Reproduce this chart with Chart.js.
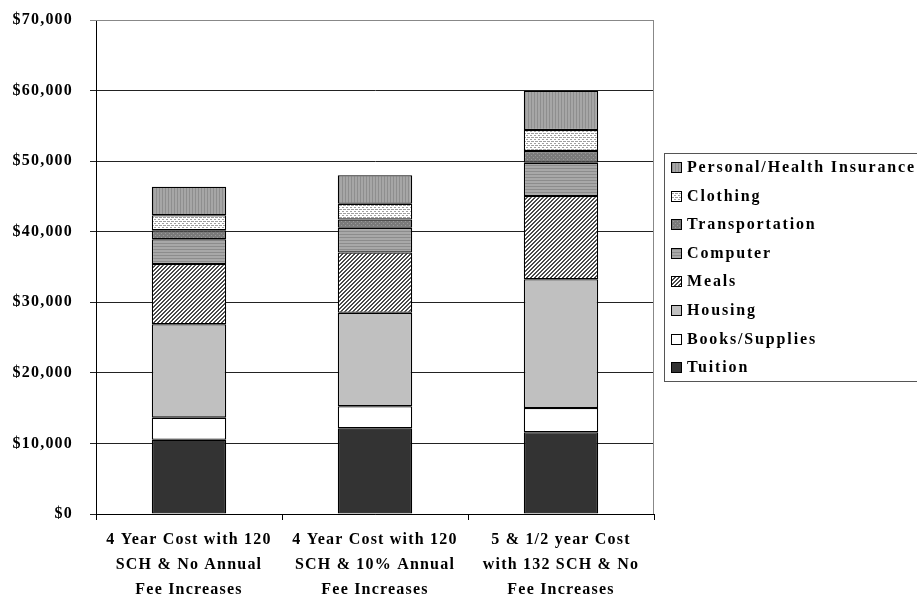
<!DOCTYPE html>
<html>
<head>
<meta charset="utf-8">
<script src="https://cdn.jsdelivr.net/npm/chart.js@4.4.1/dist/chart.umd.min.js"></script>
<style>
  html, body { margin: 0; padding: 0; background: #fff; }
  #grafico { display: block; }
</style>
</head>
<body>
<canvas id="grafico" width="917" height="601"></canvas>
<script>
// categorias (eje x, en varias lineas)
const categorias = [
   ["4 Year Cost with 120", "SCH & No Annual", "Fee Increases"],
   ["4 Year Cost with 120", "SCH & 10% Annual", "Fee Increases"],
   ["5 & 1/2 year Cost", "with 132 SCH & No", "Fee Increases"]
]

// valores de cada concepto (dolares)
const tuition = [10530, 12140, 11580]
const books = [3120, 3120, 3440]
const housing = [13230, 13240, 18240]
const meals = [8550, 8550, 11800]
const computer = [3500, 3500, 4720]
const transportation = [1270, 1180, 1660]
const clothing = [2130, 2230, 2970]
const personal = [4050, 4050, 5570]

const nombres = ["Tuition", "Books/Supplies", "Housing", "Meals", "Computer",
                 "Transportation", "Clothing", "Personal/Health Insurance"]
const ticksY = [0, 10000, 20000, 30000, 40000, 50000, 60000, 70000]

const FUENTE = "'Liberation Serif', 'Times New Roman', serif"

const crearPatron = (w, h, dibujar) => {
   const c = document.createElement('canvas')
   c.width = w
   c.height = h
   const g = c.getContext('2d')
   dibujar(g)
   return g.createPattern(c, 'repeat')
}

const patrones = {
   tuition: '#333333',
   books: '#ffffff',
   housing: '#c0c0c0',
   meals: crearPatron(4, 4, g => {
      g.fillStyle = '#ffffff'
      g.fillRect(0, 0, 4, 4)
      g.fillStyle = '#4a4a4a'
      for (let i = 0; i < 4; i++) {
         g.fillRect(i % 4, 3 - i, 1, 1)
         g.fillRect((i + 1) % 4, 3 - i, 1, 1)
      }
   }),
   computer: crearPatron(2, 3, g => {
      g.fillStyle = '#a8a8a8'
      g.fillRect(0, 0, 2, 3)
      g.fillStyle = '#8c8c8c'
      g.fillRect(0, 0, 2, 1)
   }),
   transportation: crearPatron(4, 4, g => {
      g.fillStyle = '#7a7a7a'
      g.fillRect(0, 0, 4, 4)
      g.fillStyle = '#9a9a9a'
      g.fillRect(1, 1, 1, 1)
      g.fillRect(3, 3, 1, 1)
   }),
   clothing: crearPatron(4, 4, g => {
      g.fillStyle = '#ffffff'
      g.fillRect(0, 0, 4, 4)
      g.fillStyle = '#a0a0a0'
      g.fillRect(0, 1, 2, 1)
      g.fillRect(2, 3, 2, 1)
      g.fillRect(3, 1, 1, 1)
   }),
   personal: crearPatron(3, 2, g => {
      g.fillStyle = '#a6a6a6'
      g.fillRect(0, 0, 3, 2)
      g.fillStyle = '#8e8e8e'
      g.fillRect(0, 0, 1, 2)
   })
}

const series = [tuition, books, housing, meals, computer, transportation, clothing, personal]
const fondos = [patrones.tuition, patrones.books, patrones.housing, patrones.meals,
                patrones.computer, patrones.transportation, patrones.clothing, patrones.personal]

const datasets = series.map((valores, i) => ({
   label: nombres[i],
   data: valores,
   backgroundColor: fondos[i],
   borderColor: '#000000',
   borderWidth: 1.3,
   borderSkipped: false,
   inflateAmount: 0,
   barPercentage: 0.4,
   categoryPercentage: 1.0
}))

// espaciado de letras parecido al original (Garamond de Excel)
const espaciado = {
   id: 'espaciado',
   beforeUpdate(chart) {
      chart.ctx.letterSpacing = '1.2px'
   }
}

// leyenda con recuadro, dibujada a mano a la derecha
const leyenda = {
   id: 'leyenda',
   afterDraw(chart) {
      const ctx = chart.ctx
      const x0 = 664, y0 = 153, alto = 228
      ctx.save()
      ctx.fillStyle = '#ffffff'
      ctx.fillRect(x0, y0, 300, alto)
      ctx.strokeStyle = '#555555'
      ctx.lineWidth = 1
      ctx.strokeRect(x0 + 0.5, y0 + 0.5, 300, alto)
      ctx.font = 'bold 16px ' + FUENTE
      ctx.letterSpacing = '1.85px'
      ctx.textBaseline = 'middle'
      const orden = [...chart.data.datasets].reverse()
      orden.forEach((ds, i) => {
         const y = Math.round(167 + i * 28.6)
         ctx.fillStyle = ds.backgroundColor
         ctx.fillRect(671, y - 5, 11, 11)
         ctx.strokeStyle = '#000000'
         ctx.strokeRect(671.5, y - 4.5, 10, 10)
         ctx.fillStyle = '#000000'
         ctx.fillText(ds.label, 687, y + 1)
      })
      ctx.restore()
   }
}

// borde gris del area del grafico (arriba y derecha)
const borde = {
   id: 'borde',
   beforeDatasetsDraw(chart) {
      const a = chart.chartArea
      const ctx = chart.ctx
      ctx.save()
      ctx.strokeStyle = '#888888'
      ctx.lineWidth = 1
      ctx.beginPath()
      ctx.moveTo(a.left, a.top + 0.5)
      ctx.lineTo(a.right - 0.5, a.top + 0.5)
      ctx.lineTo(a.right - 0.5, a.bottom)
      ctx.stroke()
      ctx.restore()
   }
}

const ctx = document.getElementById('grafico').getContext('2d')

new Chart(ctx, {
   type: 'bar',
   data: {
      labels: categorias,
      datasets: datasets
   },
   options: {
      responsive: false,
      animation: false,
      devicePixelRatio: 1,
      layout: {
         padding: { top: 20, right: 263, left: 0, bottom: 0 }
      },
      plugins: {
         legend: { display: false },
         tooltip: { enabled: false }
      },
      scales: {
         x: {
            stacked: true,
            afterFit: (scale) => { scale.height = 87 },
            grid: {
               offset: true,
               drawOnChartArea: false,
               drawTicks: true,
               tickLength: 6,
               color: '#000000'
            },
            border: { color: '#000000', width: 1 },
            ticks: {
               color: '#000000',
               padding: 7,
               maxRotation: 0,
               autoSkip: false,
               font: { family: FUENTE, size: 16, weight: 'bold', lineHeight: 1.58 }
            }
         },
         y: {
            stacked: true,
            min: 0,
            max: 70000,
            afterFit: (scale) => {
               scale.width = 96
               scale.paddingTop = 10
               scale.paddingBottom = 10
            },
            afterBuildTicks: (scale) => {
               scale.ticks = ticksY.map(v => ({ value: v }))
            },
            grid: {
               color: (c) => c.tick && c.tick.value === 70000 ? '#888888' : '#222222',
               tickLength: 6,
               lineWidth: 1
            },
            border: { color: '#000000', width: 1 },
            ticks: {
               color: '#000000',
               padding: 17,
               font: { family: FUENTE, size: 16, weight: 'bold' },
               callback: (v) => '$' + Number(v).toLocaleString('en-US')
            }
         }
      }
   },
   plugins: [espaciado, borde, leyenda]
})
</script>
</body>
</html>
